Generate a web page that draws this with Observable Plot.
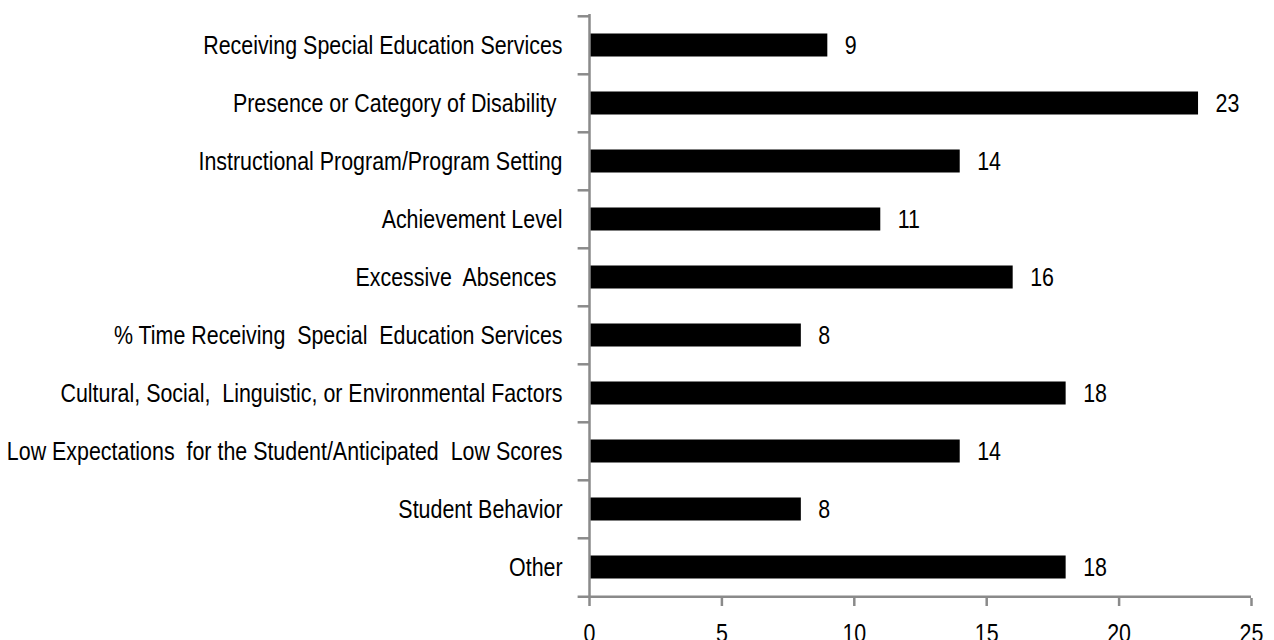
<!DOCTYPE html>
<html><head><meta charset="utf-8">
<script src="https://cdn.jsdelivr.net/npm/d3@7"></script>
<script src="https://cdn.jsdelivr.net/npm/@observablehq/plot@0.6"></script>
<style>
html,body{margin:0;padding:0;background:#fff}
svg text{white-space:pre}
</style>
</head><body><div id="chart"></div>
<script>
const categories = [
  "Receiving Special Education Services",
  "Presence or Category of Disability ",
  "Instructional Program/Program Setting",
  "Achievement Level",
  "Excessive  Absences ",
  "% Time Receiving  Special  Education Services",
  "Cultural, Social,  Linguistic, or Environmental Factors",
  "Low Expectations  for the Student/Anticipated  Low Scores",
  "Student Behavior",
  "Other"
];
const values = [9, 23, 14, 11, 16, 8, 18, 14, 8, 18];
const xTicks = [0, 5, 10, 15, 20, 25];

const data = categories.map((c, i) => ({category: c, value: values[i]}));
const W = 1274, H = 640, mt = 14, mb = 42, ml = 589, mr = 23;
const step = (H - mt - mb) / categories.length;
const axisColor = "#8a8a8a";
const font = '"Liberation Sans",Arial,sans-serif';
const fs = 25.5;
const narrow = 0.84;

const chart = Plot.plot({
  width: W, height: H,
  marginTop: mt, marginBottom: mb, marginLeft: ml, marginRight: mr,
  style: {fontSize: fs + "px", fontFamily: font, color: "#000", background: "#fff"},
  x: {domain: [0, 25], label: null},
  y: {domain: categories, padding: 0, label: null},
  marks: [
    Plot.barX(data, {x: "value", y: "category", fill: "#000", insetTop: 17.5, insetBottom: 17.5}),
    Plot.text(data, {x: "value", y: "category", text: d => String(d.value), textAnchor: "start", dx: 17, fontSize: fs, fill: "#000"}),
    Plot.ruleY(categories, {y: d => d, x1: -0.43, x2: 0, dy: -step / 2, stroke: axisColor, strokeWidth: 2.5}),
    Plot.ruleY([categories[categories.length - 1]], {y: d => d, x1: -0.43, x2: 25, dy: step / 2, stroke: axisColor, strokeWidth: 2.5}),
    Plot.ruleX([0], {stroke: axisColor, strokeWidth: 2.5}),
    Plot.axisX({ticks: xTicks, label: null, tickSize: 8, tickPadding: 17, stroke: axisColor, strokeWidth: 2.5, fill: "#000", fontSize: fs, tickFormat: d => String(d)}),
    Plot.axisY({label: null, tickSize: 0, tickPadding: 27, fontSize: fs, fill: "#000"})
  ]
});
document.getElementById("chart").appendChild(chart);

// condense text horizontally (reference uses a narrow face)
const NS = "http://www.w3.org/2000/svg";
chart.querySelectorAll("text").forEach(t => {
  const anchor = getComputedStyle(t).textAnchor || "start";
  const g = document.createElementNS(NS, "g");
  t.parentNode.insertBefore(g, t);
  g.appendChild(t);
  const b = g.getBBox();
  const ax = anchor === "end" ? b.x + b.width : anchor === "middle" ? b.x + b.width / 2 : b.x;
  g.setAttribute("transform", `translate(${ax},0) scale(${narrow},1) translate(${-ax},0)`);
});
</script>
</body></html>
